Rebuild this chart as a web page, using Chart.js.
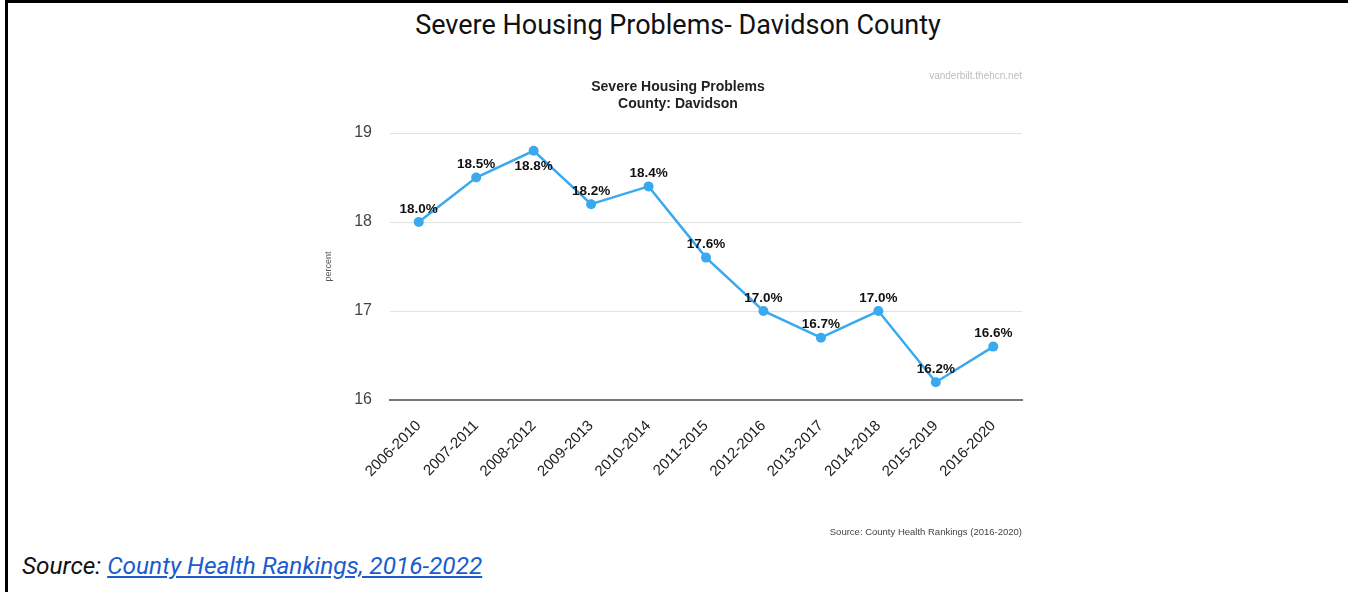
<!DOCTYPE html>
<html>
<head>
<meta charset="utf-8">
<title>Severe Housing Problems- Davidson County</title>
<script src="https://cdn.jsdelivr.net/npm/chart.js@4/dist/chart.umd.min.js"></script>
<style>
    html, body { margin: 0; padding: 0; background: #fff; }
    body { width: 1348px; height: 592px; position: relative; overflow: hidden; }
    .frame {
        position: absolute; left: 5px; top: 0; right: 0; bottom: 0;
        border-top: 3px solid #000; border-left: 3px solid #000;
    }
    .page-title {
        position: absolute; left: 4px; width: 1348px; top: 9px;
        text-align: center; font-family: Roboto, sans-serif; font-size: 27px; color: #111;
    }
    .chart-box { position: absolute; left: 0; top: 60px; width: 1348px; height: 490px; }
    .caption {
        position: absolute; left: 22px; top: 551px;
        font-family: Roboto, sans-serif; font-style: italic; font-size: 24.4px; color: #111;
    }
    .caption a { color: #1a5ccc; text-decoration: underline; }
</style>
</head>
<body>
<div class="frame"></div>
<div class="page-title">Severe Housing Problems- Davidson County</div>
<div class="chart-box"><canvas id="housingChart"></canvas></div>
<div class="caption">Source: <a href="#">County Health Rankings, 2016-2022</a></div>

<script>
const periods = ['2006-2010', '2007-2011', '2008-2012', '2009-2013', '2010-2014', '2011-2015',
                 '2012-2016', '2013-2017', '2014-2018', '2015-2019', '2016-2020'];
const percentValues = [18.0, 18.5, 18.8, 18.2, 18.4, 17.6, 17.0, 16.7, 17.0, 16.2, 16.6];
const yTicks = [16, 17, 18, 19];

const lineColor = '#3aa9ee';

// draws titles, watermark, source note, axis title and the value labels
const annotations = {
    id: 'annotations',
    afterDatasetsDraw(chart) {
        const c = chart.ctx;
        const area = chart.chartArea;
        c.save();

        c.fillStyle = '#222';
        c.font = 'bold 14px "Liberation Sans", Arial, sans-serif';
        c.textAlign = 'center';
        c.textBaseline = 'middle';
        c.fillText('Severe Housing Problems', 678, 27);
        c.fillText('County: Davidson', 678, 44);

        c.fillStyle = '#bdbdbd';
        c.font = '10px "Liberation Sans", Arial, sans-serif';
        c.textAlign = 'right';
        c.fillText('vanderbilt.thehcn.net', area.right, 16);

        c.fillStyle = '#444';
        c.font = '9.5px "Liberation Sans", Arial, sans-serif';
        c.fillText('Source: County Health Rankings (2016-2020)', area.right, 472);

        c.save();
        c.translate(329, (area.top + area.bottom) / 2);
        c.rotate(-Math.PI / 2);
        c.textAlign = 'center';
        c.fillStyle = '#555';
        c.font = '9px "Liberation Sans", Arial, sans-serif';
        c.fillText('percent', 0, 0);
        c.restore();

        const maxVal = Math.max(...percentValues);
        const meta = chart.getDatasetMeta(0);
        c.fillStyle = '#111';
        c.font = 'bold 13.5px "Liberation Sans", Arial, sans-serif';
        c.textAlign = 'center';
        meta.data.forEach((pt, i) => {
            const v = percentValues[i];
            const dy = v === maxVal ? 15 : -13;
            c.fillText(v.toFixed(1) + '%', pt.x, pt.y + dy);
        });
        c.restore();
    }
};

new Chart(document.getElementById('housingChart'), {
    type: 'line',
    data: {
        labels: periods,
        datasets: [{
            data: percentValues,
            borderColor: lineColor,
            backgroundColor: lineColor,
            borderWidth: 2.5,
            pointRadius: 5,
            pointHoverRadius: 5,
            pointBackgroundColor: lineColor,
            pointBorderWidth: 0,
            tension: 0
        }]
    },
    options: {
        responsive: true,
        maintainAspectRatio: false,
        animation: false,
        layout: { padding: { left: 300, right: 326, top: 73, bottom: 0 } },
        plugins: {
            legend: { display: false },
            title: { display: false },
            tooltip: { enabled: false }
        },
        scales: {
            x: {
                offset: true,
                afterFit: s => { s.height = 150; },
                grid: { display: false, drawTicks: false },
                border: { display: true, color: '#777', width: 2 },
                ticks: {
                    color: '#222',
                    font: { family: '"Liberation Sans", Arial, sans-serif', size: 15 },
                    minRotation: 45,
                    maxRotation: 45,
                    autoSkip: false,
                    padding: 17
                }
            },
            y: {
                min: yTicks[0],
                max: yTicks[yTicks.length - 1],
                afterFit: s => { s.width = 90; },
                afterBuildTicks: s => { s.ticks = yTicks.map(v => ({ value: v })); },
                grid: {
                    drawTicks: false,
                    color: ctx => ctx.tick && ctx.tick.value === yTicks[0] ? 'rgba(0,0,0,0)' : '#e2e2e2',
                    lineWidth: 1
                },
                border: { display: false },
                ticks: {
                    color: '#444',
                    font: { family: '"Liberation Sans", Arial, sans-serif', size: 16 },
                    padding: 18
                }
            }
        }
    },
    plugins: [annotations]
});
</script>
</body>
</html>
